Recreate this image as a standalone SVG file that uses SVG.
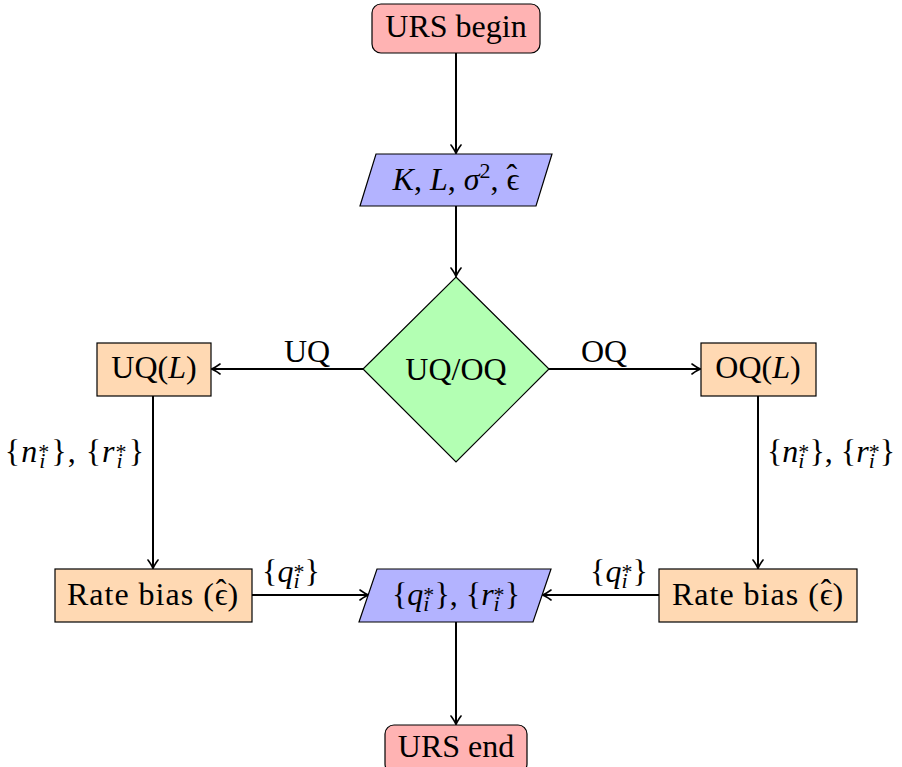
<svg xmlns="http://www.w3.org/2000/svg" width="902" height="767" viewBox="0 0 902 767">
<style>
text{font-family:'Liberation Serif',serif;font-size:32px;fill:#000}
.m{font-style:italic}
.s{font-size:22px}
.node{stroke:#000;stroke-width:1.2}
.red{fill:#FFB3B3}.blue{fill:#B3B3FF}.green{fill:#B3FFB3}.orange{fill:#FFD9B3}
.edge{stroke:#000;stroke-width:2;fill:none;marker-end:url(#ar)}
</style>
<defs>
<marker id="ar" markerUnits="userSpaceOnUse" markerWidth="14" markerHeight="14" viewBox="-10 -7 12 14" refX="0" refY="0" orient="auto">
<path d="M-8,-5 Q-2.5,-1 0.5,0 Q-2.5,1 -8,5" fill="none" stroke="#000" stroke-width="1.6" stroke-linecap="round"/>
</marker>
</defs>
<rect width="902" height="767" fill="#fff"/>
<g id="connectors">
<path class="edge" d="M456,53 V153"/>
<path class="edge" d="M456,206 V276"/>
<path class="edge" d="M363,369 H212"/>
<path class="edge" d="M549,369 H700"/>
<path class="edge" d="M153,396 V568"/>
<path class="edge" d="M758,396 V568"/>
<path class="edge" d="M252,595 H368"/>
<path class="edge" d="M659,595 H543"/>
<path class="edge" d="M456,622 V724"/>
<text x="307" y="362" text-anchor="middle">UQ</text>
<text x="604" y="362" text-anchor="middle">OQ</text>
<text x="145" y="462" text-anchor="end" letter-spacing="1">{<tspan class="m">n</tspan><tspan class="s" dy="-3">*</tspan><tspan class="s m" dx="-11" dy="9">i</tspan><tspan dx="5" dy="-6">}, {</tspan><tspan class="m">r</tspan><tspan class="s" dy="-3">*</tspan><tspan class="s m" dx="-11" dy="9">i</tspan><tspan dx="5" dy="-6">}</tspan></text>
<text x="767" y="462">{<tspan class="m">n</tspan><tspan class="s" dy="-3">*</tspan><tspan class="s m" dx="-11" dy="9">i</tspan><tspan dx="5" dy="-6">}, {</tspan><tspan class="m">r</tspan><tspan class="s" dy="-3">*</tspan><tspan class="s m" dx="-11" dy="9">i</tspan><tspan dx="5" dy="-6">}</tspan></text>
<text x="291" y="582" text-anchor="middle">{<tspan class="m">q</tspan><tspan class="s" dy="-3">*</tspan><tspan class="s m" dx="-11" dy="9">i</tspan><tspan dx="5" dy="-6">}</tspan></text>
<text x="619" y="582" text-anchor="middle">{<tspan class="m">q</tspan><tspan class="s" dy="-3">*</tspan><tspan class="s m" dx="-11" dy="9">i</tspan><tspan dx="5" dy="-6">}</tspan></text>
</g>
<g id="urs-begin">
<rect class="node red" x="372" y="4" width="168" height="49" rx="9"/>
<text x="456" y="37" text-anchor="middle">URS begin</text>
</g>
<g id="input">
<polygon class="node blue" points="376,154 552,154 536,206 360,206"/>
<text x="456" y="190" text-anchor="middle"><tspan class="m">K</tspan>, <tspan class="m">L</tspan>, <tspan class="m">σ</tspan><tspan class="s" dy="-12">2</tspan><tspan dy="12">, ϵ</tspan><tspan dx="-13" dy="-4">ˆ</tspan></text>
</g>
<g id="decision">
<polygon class="node green" points="456,277 549,369 456,462 363,369"/>
<text x="456" y="380" text-anchor="middle">UQ/OQ</text>
</g>
<g id="uq">
<rect class="node orange" x="97" y="343" width="114" height="53"/>
<text x="154" y="378" text-anchor="middle">UQ(<tspan class="m">L</tspan>)</text>
</g>
<g id="oq">
<rect class="node orange" x="701" y="343" width="115" height="53"/>
<text x="758" y="378" text-anchor="middle">OQ(<tspan class="m">L</tspan>)</text>
</g>
<g id="rate-bias-left">
<rect class="node orange" x="55" y="569" width="197" height="53"/>
<text x="153" y="605" text-anchor="middle" letter-spacing="1">Rate bias (ϵ<tspan dx="-13" dy="-4">ˆ</tspan><tspan dy="4">)</tspan></text>
</g>
<g id="rate-bias-right">
<rect class="node orange" x="659" y="569" width="198" height="53"/>
<text x="758" y="605" text-anchor="middle" letter-spacing="1">Rate bias (ϵ<tspan dx="-13" dy="-4">ˆ</tspan><tspan dy="4">)</tspan></text>
</g>
<g id="output">
<polygon class="node blue" points="377,569 551,569 533,622 359,622"/>
<text x="456" y="605" text-anchor="middle">{<tspan class="m">q</tspan><tspan class="s" dy="-3">*</tspan><tspan class="s m" dx="-11" dy="9">i</tspan><tspan dx="5" dy="-6">}, {</tspan><tspan class="m">r</tspan><tspan class="s" dy="-3">*</tspan><tspan class="s m" dx="-11" dy="9">i</tspan><tspan dx="5" dy="-6">}</tspan></text>
</g>
<g id="urs-end">
<rect class="node red" x="385" y="725" width="142" height="48" rx="9"/>
<text x="456" y="757" text-anchor="middle">URS end</text>
</g>
</svg>
